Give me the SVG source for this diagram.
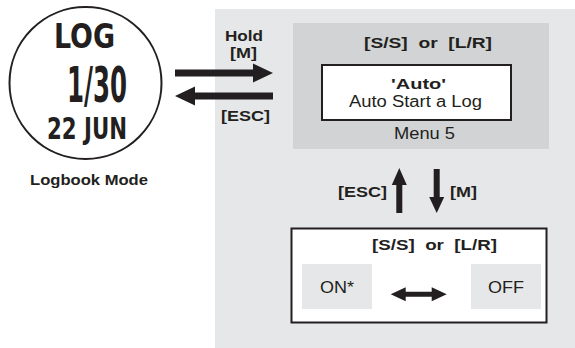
<svg xmlns="http://www.w3.org/2000/svg" width="575" height="348" viewBox="0 0 575 348">
<style>
.b{font-family:"Liberation Sans",Arial,sans-serif;font-weight:bold;font-size:15px;fill:#231f20}
.r{font-family:"Liberation Sans",Arial,sans-serif;font-size:16px;fill:#231f20}
.lcd{font-family:"Liberation Sans Narrow","DejaVu Sans Condensed","Liberation Sans",sans-serif;font-weight:bold;fill:#231f20}
.box{stroke:#231f20;stroke-width:2;fill:#ffffff}
.arr{fill:#231f20}
</style>
<rect x="0" y="0" width="575" height="348" fill="#ffffff"/>
<g id="panel">
<rect x="215" y="9" width="360" height="339" fill="#e6e7e8"/>
</g>
<g id="watch">
<circle cx="85.5" cy="83" r="76" fill="#ffffff" stroke="#231f20" stroke-width="2"/>
<text class="lcd" x="54" y="48" font-size="33" textLength="61" lengthAdjust="spacingAndGlyphs">LOG</text>
<text class="lcd" x="67" y="102" font-size="50" textLength="60" lengthAdjust="spacingAndGlyphs">1/30</text>
<text class="lcd" x="47" y="139" font-size="31" textLength="80" lengthAdjust="spacingAndGlyphs">22 JUN</text>
<text class="b" x="30" y="185" textLength="118" lengthAdjust="spacingAndGlyphs">Logbook Mode</text>
</g>
<g id="menu5">
<rect x="293" y="23" width="256" height="126" fill="#d1d3d4"/>
<text class="b" x="364" y="48" textLength="128" lengthAdjust="spacingAndGlyphs" xml:space="preserve">[S/S]  or  [L/R]</text>
<rect class="box" x="322" y="65" width="189" height="55"/>
<text class="b" x="391" y="89" font-size="16" textLength="55" lengthAdjust="spacingAndGlyphs">'Auto'</text>
<text class="r" x="349" y="107" textLength="133" lengthAdjust="spacingAndGlyphs">Auto Start a Log</text>
<text class="r" x="394" y="139" textLength="61" lengthAdjust="spacingAndGlyphs">Menu 5</text>
</g>
<g id="options">
<rect class="box" x="291.5" y="228.5" width="255" height="94"/>
<text class="b" x="372" y="250" textLength="125" lengthAdjust="spacingAndGlyphs" xml:space="preserve">[S/S]  or  [L/R]</text>
<g id="on">
<rect x="302" y="264" width="70" height="45" fill="#e6e7e8"/>
<text class="r" x="320" y="293" textLength="34" lengthAdjust="spacingAndGlyphs">ON*</text>
</g>
<g id="off">
<rect x="471" y="264" width="70" height="45" fill="#e6e7e8"/>
<text class="r" x="488" y="293" textLength="36" lengthAdjust="spacingAndGlyphs">OFF</text>
</g>
</g>
<g id="labels">
<text class="b" x="225" y="41" textLength="38" lengthAdjust="spacingAndGlyphs">Hold</text>
<text class="b" x="230" y="58" textLength="27" lengthAdjust="spacingAndGlyphs">[M]</text>
<text class="b" x="221" y="121" textLength="49" lengthAdjust="spacingAndGlyphs">[ESC]</text>
<text class="b" x="338" y="197" textLength="49" lengthAdjust="spacingAndGlyphs">[ESC]</text>
<text class="b" x="450" y="197" textLength="27" lengthAdjust="spacingAndGlyphs">[M]</text>
</g>
<g id="connectors">
<polygon class="arr" points="175,69.5 253,69.5 253,63.5 273,73 253,82.5 253,76.5 175,76.5"/>
<polygon class="arr" points="273,92.5 195,92.5 195,86.5 175,96 195,105.5 195,99.5 273,99.5"/>
<polygon class="arr" points="396.3,213 396.3,185 391.8,185 399.3,168 406.8,185 402.3,185 402.3,213"/>
<polygon class="arr" points="433.7,169 433.7,197 429.2,197 436.7,213 444.2,197 439.7,197 439.7,169"/>
<polygon class="arr" points="390.7,294.3 405.7,287.3 405.7,291.8 431.7,291.8 431.7,287.3 446.7,294.3 431.7,301.3 431.7,296.8 405.7,296.8 405.7,301.3"/>
</g>
</svg>
